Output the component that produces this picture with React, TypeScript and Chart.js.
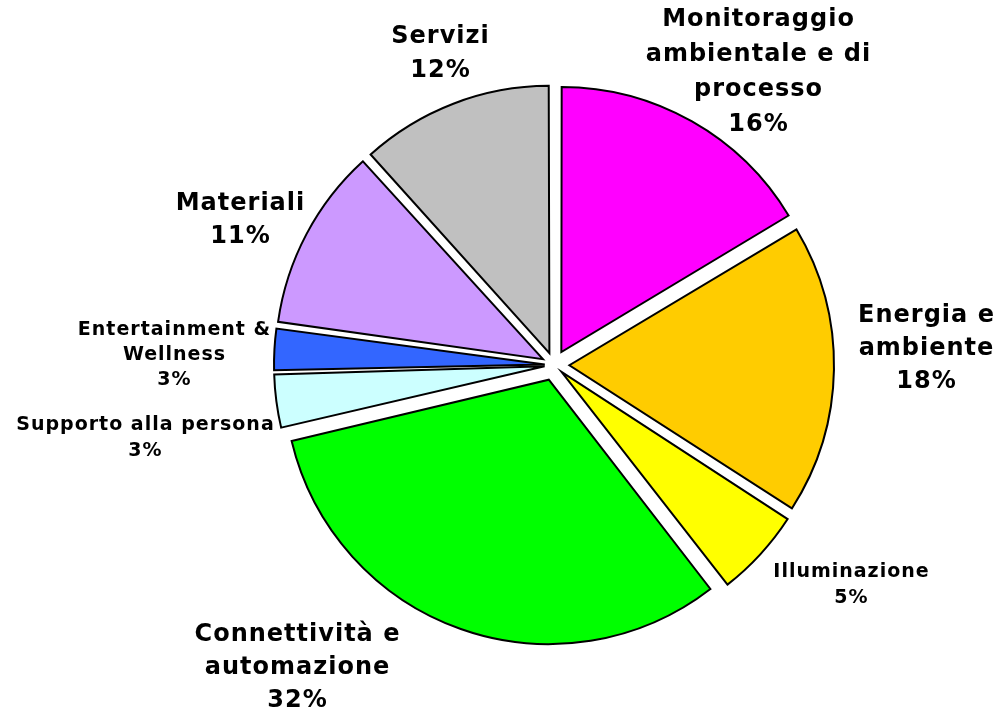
import React, { useEffect, useRef } from "react";
import { Chart, registerables } from "chart.js";

Chart.register(...registerables);

const categories = [
  "Monitoraggio ambientale e di processo",
  "Energia e ambiente",
  "Illuminazione",
  "Connettività e automazione",
  "Supporto alla persona",
  "Entertainment & Wellness",
  "Materiali",
  "Servizi",
];

const labelLines = [
  ["Monitoraggio", "ambientale e di", "processo"],
  ["Energia e", "ambiente"],
  ["Illuminazione"],
  ["Connettività e", "automazione"],
  ["Supporto alla persona"],
  ["Entertainment &", "Wellness"],
  ["Materiali"],
  ["Servizi"],
];

const values = [16.4, 17.7, 5.4, 31.75, 3.3, 2.6, 11.1, 11.7];

const colors = [
  "#FF00FF",
  "#FFCC00",
  "#FFFF00",
  "#00FF00",
  "#CCFFFF",
  "#3366FF",
  "#CC99FF",
  "#C0C0C0",
];

// label layout: offset of label block centre from pie centre, font size, line spacing
const labelLayout = [
  { dx: 204, dy: -293, size: 24, gap: 35 },
  { dx: 372, dy: -16, size: 24, gap: 33 },
  { dx: 297, dy: 220, size: 19, gap: 26 },
  { dx: -257, dy: 303, size: 24, gap: 33 },
  { dx: -409, dy: 73, size: 19, gap: 26 },
  { dx: -380, dy: -10, size: 19, gap: 25 },
  { dx: -314, dy: -145, size: 24, gap: 33 },
  { dx: -114, dy: -311, size: 24, gap: 34 },
];

const LETTER_SPACING = 1;
const EXPLODE = 17;
const RADIUS = 263;

export default function App() {
  const ref = useRef<HTMLCanvasElement | null>(null);

  useEffect(() => {
    if (!ref.current) return;
    const total = values.reduce((a, b) => a + b, 0);

    const labelPlugin = {
      id: "outerLabels",
      afterDatasetsDraw(chart: any) {
        const meta = chart.getDatasetMeta(0);
        const arc0 = meta.data[0];
        if (!arc0) return;
        const cx = arc0.x;
        const cy = arc0.y;
        const ctx = chart.ctx;
        ctx.save();
        ctx.fillStyle = "#000000";
        ctx.textAlign = "center";
        ctx.textBaseline = "middle";
        (ctx as any).letterSpacing = LETTER_SPACING + "px";
        values.forEach((v, i) => {
          const lay = labelLayout[i];
          const lines = [...labelLines[i], Math.round((v / total) * 100) + "%"];
          ctx.font = `bold ${lay.size}px "DejaVu Sans", Verdana, sans-serif`;
          const n = lines.length;
          lines.forEach((t, k) => {
            const y = cy + lay.dy + (k - (n - 1) / 2) * lay.gap;
            ctx.fillText(t, cx + lay.dx + LETTER_SPACING / 2, y);
          });
        });
        ctx.restore();
      },
    };

    const chart = new Chart(ref.current, {
      type: "pie",
      data: {
        labels: categories,
        datasets: [
          {
            data: values,
            backgroundColor: colors,
            borderColor: "#000000",
            borderWidth: 2,
            borderJoinStyle: "miter",
            offset: (c: any) => {
              const v = values[c.dataIndex] ?? 0;
              const circ = (v / total) * Math.PI * 2;
              const fix = 1 - Math.sin(Math.min(Math.PI, circ));
              return (4 * EXPLODE) / (1 + fix);
            },
            hoverOffset: 0,
          } as any,
        ],
      },
      options: {
        responsive: false,
        animation: false,
        radius: RADIUS,
        layout: { padding: { left: 300, right: 191, top: 18, bottom: 0 } },
        plugins: {
          legend: { display: false },
          tooltip: { enabled: false },
          title: { display: false },
        },
      } as any,
      plugins: [labelPlugin],
    });
    return () => chart.destroy();
  }, []);

  return (
    <div style={{ position: "fixed", left: 0, top: 0, width: 999, height: 712, background: "#ffffff" }}>
      <canvas ref={ref} width={999} height={712} style={{ width: 999, height: 712, display: "block" }} />
    </div>
  );
}
